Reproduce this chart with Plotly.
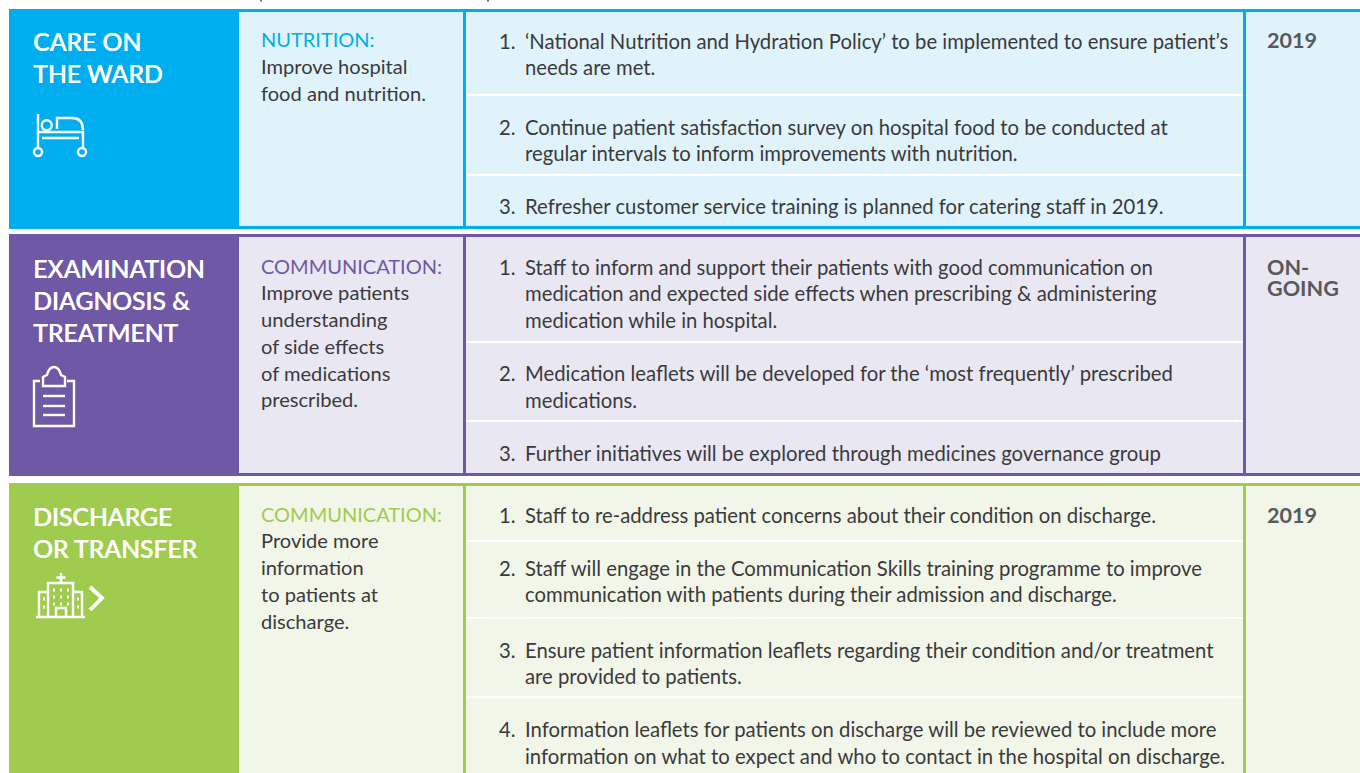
import plotly.graph_objects as go

# ---------- content ----------
stage_titles = [["CARE ON", "THE WARD"],
                ["EXAMINATION", "DIAGNOSIS &", "TREATMENT"],
                ["DISCHARGE", "OR TRANSFER"]]
theme_heads = ["NUTRITION:", "COMMUNICATION:", "COMMUNICATION:"]
theme_bodies = [["Improve hospital", "food and nutrition."],
                ["Improve patients", "understanding", "of side effects", "of medications", "prescribed."],
                ["Provide more", "information", "to patients at", "discharge."]]
actions = [
    [["‘National Nutrition and Hydration Policy’ to be implemented to ensure patient’s", "needs are met."],
     ["Continue patient satisfaction survey on hospital food to be conducted at", "regular intervals to inform improvements with nutrition."],
     ["Refresher customer service training is planned for catering staff in 2019."]],
    [["Staff to inform and support their patients with good communication on", "medication and expected side effects when prescribing & administering", "medication while in hospital."],
     ["Medication leaflets will be developed for the ‘most frequently’ prescribed", "medications."],
     ["Further initiatives will be explored through medicines governance group"]],
    [["Staff to re-address patient concerns about their condition on discharge."],
     ["Staff will engage in the Communication Skills training programme to improve", "communication with patients during their admission and discharge."],
     ["Ensure patient information leaflets regarding their condition and/or treatment", "are provided to patients."],
     ["Information leaflets for patients on discharge will be reviewed to include more", "information on what to expect and who to contact in the hospital on discharge."]],
]
timescales = [["2019"], ["ON-", "GOING"], ["2019"]]

# ---------- styling / layout ----------
strong = ["#00AEEF", "#6F58A5", "#9FCC4E"]
pale = ["#E0F3FB", "#E9E7F2", "#F2F6E9"]
row_top = [9, 234, 483]
row_bot = [229, 476, 790]
title_y = [[41, 73], [268, 300, 332], [516, 548]]
head_y = [39, 266, 514]
body_y = [[66, 93], [292, 319, 346, 373, 399], [540, 567, 594, 621]]
action_y = [[[40.5, 66.5], [126.5, 152.5], [205.5]],
            [[266.5, 292.5, 319.5], [372.5, 399.5], [452.5]],
            [[514.5], [567.5, 593.5], [649.5, 675.5], [728.5, 755.5]]]
divider_y = [[95, 175], [342, 421], [541, 618, 697]]
time_y = [[40], [267, 288], [515]]
FONT = "Lato"
INK = "#3A3A3C"
GREY = "#58595B"

shapes, notes = [], []


def rect(x0, y0, x1, y1, color):
    shapes.append(dict(type="rect", x0=x0, y0=y0, x1=x1, y1=y1, fillcolor=color,
                       line=dict(width=0), layer="below"))


def stroke(path, color="#FFFFFF", width=2.4):
    shapes.append(dict(type="path", path=path, line=dict(color=color, width=width),
                       fillcolor="rgba(0,0,0,0)", layer="above"))


def circle(cx, cy, r, width=2.4):
    shapes.append(dict(type="circle", x0=cx - r, x1=cx + r, y0=cy - r, y1=cy + r,
                       line=dict(color="#FFFFFF", width=width), layer="above"))


def label(x, y, text, size, color, weight=400, shadow=None):
    font = dict(family=FONT, size=size, color=color, weight=weight)
    if shadow:
        font["shadow"] = shadow
    notes.append(dict(x=x, y=y, text=text, showarrow=False, xanchor="left", yanchor="middle",
                      borderpad=0, align="left", font=font))


for i in range(3):
    t, b = row_top[i], row_bot[i]
    rect(9, t, 1360, b, strong[i])            # outer band + borders
    rect(239, t + 3, 463, b - 3, pale[i])
    rect(466, t + 3, 1243, b - 3, pale[i])
    rect(1246, t + 3, 1360, b - 3, pale[i])
    for d in divider_y[i]:
        rect(466, d - 1, 1243, d + 1, "#FFFFFF")
    for y, s in zip(title_y[i], stage_titles[i]):
        label(32, y, s, 24.7, "#FFFFFF", 500, "0.5px 0 0 #FFFFFF")
    label(259.5, head_y[i], theme_heads[i], 20, strong[i])
    for y, s in zip(body_y[i], theme_bodies[i]):
        label(259.5, y, s, 20.1, INK)
    for n, (ys, lines) in enumerate(zip(action_y[i], actions[i]), start=1):
        label(498, ys[0], f"{n}.", 20.3, INK)
        for y, s in zip(ys, lines):
            label(524, y, s, 20.3, INK)
    for y, s in zip(time_y[i], timescales[i]):
        label(1265.5, y, s, 21.6, GREY, 700)

# cropped descenders of the text above the table, at the very top edge
rect(260, 0, 262, 1.5, "#6A6A6A")
rect(487, 0, 489, 1.5, "#6A6A6A")

# bed icon
stroke("M38,114 L38,148")
stroke("M38,132 L83,132 L83,148")
stroke("M42,138 L79,138")
stroke("M57,129 L57,118 L72,118 Q83,118 83,130")
circle(46.7, 125.3, 5)
circle(38, 152, 4)
circle(82, 152, 4)

# clipboard icon
stroke("M40,381 L34,381 L34,426 L74,426 L74,381 L67,381")
stroke("M43,386 L65,386 L65,377 L61,375 Q59,367 54,367 Q49,367 47,375 L43,377 Z")
for y in (396, 406, 415):
    stroke(f"M43,{y} L65,{y}")

# hospital icon
stroke("M36,617 L85,617")
stroke("M48,617 L48,583 L73,583 L73,617")
stroke("M48,592 L39,592 L39,617 M73,592 L82,592 L82,617")
stroke("M56,617 L56,608 L66,608 L66,617")
stroke("M61,573 L61,582 M56.5,577.5 L65.5,577.5")
for x in (54, 61, 68):
    for y in (590, 597, 604):
        stroke(f"M{x},{y - 1.5} L{x},{y + 1.5}", width=2)
for x in (44, 78):
    for y in (599, 607):
        stroke(f"M{x},{y - 1.5} L{x},{y + 1.5}", width=2)
stroke("M90,587 L102,598 L90,610", width=3.8)

fig = go.Figure()
fig.update_layout(
    width=1360, height=773, margin=dict(l=0, r=0, t=0, b=0),
    paper_bgcolor="#FFFFFF", plot_bgcolor="#FFFFFF", showlegend=False,
    xaxis=dict(range=[0, 1360], visible=False, fixedrange=True),
    yaxis=dict(range=[773, 0], visible=False, fixedrange=True),
    shapes=shapes, annotations=notes,
)
fig.write_html("out.html", config=dict(displayModeBar=False),
               post_script="document.body.style.margin='0';document.body.style.overflow='hidden';")
